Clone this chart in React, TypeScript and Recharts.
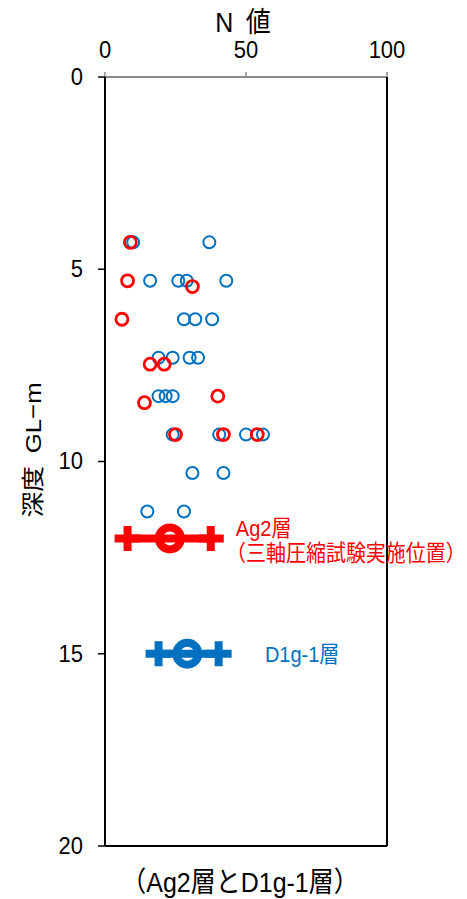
import { ScatterChart, Scatter, XAxis, YAxis, Label } from 'recharts';

const RED = '#FF0000';
const BLUE = '#0070C0';
const FONT = "'Liberation Sans', 'Noto Sans CJK JP', sans-serif";
const STRETCH = 1.12; // the reference text is a little taller than it is wide

const nTicks = [0, 50, 100];
const depthTicks = [0, 5, 10, 15, 20];

// D1g-1層: N値 and depth (m)
const d1gN = [10, 37, 16, 26, 29, 43, 28, 32, 38, 19, 24, 30, 33, 19, 21.5, 24, 24, 40.5, 50, 56, 31, 42, 15, 28];
const d1gDepth = [4.3, 4.3, 5.3, 5.3, 5.3, 5.3, 6.3, 6.3, 6.3, 7.3, 7.3, 7.3, 7.3, 8.3, 8.3, 8.3, 9.3, 9.3, 9.3, 9.3, 10.3, 10.3, 11.3, 11.3];

// Ag2層
const ag2N = [9, 8, 31, 6, 16, 21, 40, 14, 25, 42, 54];
const ag2Depth = [4.3, 5.3, 5.45, 6.3, 7.47, 7.47, 8.3, 8.47, 9.3, 9.3, 9.3];

// mean -σ, mean, mean +σ
const ag2StatN = [8, 23, 37.5];
const ag2StatDepth = [12, 12, 12];
const d1gStatN = [19, 29.2, 40.3];
const d1gStatDepth = [15, 15, 15];
const statKind = ['sd', 'mean', 'sd'];

// annotations
const noteText = ['Ag2層', '（三軸圧縮試験実施位置）', 'D1g-1層'];
const noteN = [46.4, 42.9, 56.7];
const noteDepth = [11.73, 12.38, 15];
const noteColor = [RED, RED, BLUE];

const toPoints = (ns: number[], ds: number[]) => ns.map((n, i) => ({ n, d: ds[i] }));
const toStats = (ns: number[], ds: number[]) => ns.map((n, i) => ({ n, d: ds[i], kind: statKind[i] }));
const notes = noteText.map((text, i) => ({ n: noteN[i], d: noteDepth[i], text, color: noteColor[i] }));

const stretchY = (x: number, y: number) => `translate(${x} ${y}) scale(1 ${STRETCH}) translate(${-x} ${-y})`;

const ring = (color: string, r: number, w: number) => (p: any) => (
  <circle cx={p.cx} cy={p.cy} r={r} fill="none" stroke={color} strokeWidth={w} />
);

const statShape = (color: string) => (p: any) => {
  if (p.payload.kind === 'mean') {
    return <circle cx={p.cx} cy={p.cy} r={11} fill="none" stroke={color} strokeWidth={8} />;
  }
  return (
    <path
      d={`M${p.cx - 13},${p.cy}H${p.cx + 13}M${p.cx},${p.cy - 12.5}V${p.cy + 12.5}`}
      stroke={color}
      strokeWidth={8}
      fill="none"
    />
  );
};

const noteShape = (p: any) => (
  <text x={p.cx} y={p.cy} transform={stretchY(p.cx, p.cy)} fill={p.payload.color} fontSize={20} fontFamily={FONT} dominantBaseline="central">
    {p.payload.text}
  </text>
);

const TopTick = (p: any) => (
  <text x={p.x} y={p.y} transform={stretchY(p.x, p.y)} textAnchor="middle" fontSize={22} fontFamily={FONT} fill="#000">
    {p.payload.value}
  </text>
);

const LeftTick = (p: any) => (
  <text x={p.x} y={p.y + 8} transform={stretchY(p.x, p.y + 8)} textAnchor="end" fontSize={22} fontFamily={FONT} fill="#000">
    {p.payload.value}
  </text>
);

export default function App() {
  return (
    <div style={{ position: 'absolute', left: 0, top: 0, background: '#fff' }}>
      <ScatterChart width={467} height={899} margin={{ top: 0, right: 0, bottom: 0, left: 0 }}>
        <XAxis
          xAxisId="top"
          orientation="top"
          type="number"
          dataKey="n"
          domain={[0, 100]}
          ticks={nTicks}
          interval={0}
          height={77}
          axisLine={{ stroke: '#8c8c8c', strokeWidth: 2 }}
          tickLine={{ stroke: '#8c8c8c', strokeWidth: 1.5 }}
          tickSize={5}
          tickMargin={14}
          tick={TopTick}
        >
          <Label
            content={({ viewBox }: any) => (
              <text
                x={viewBox.x + viewBox.width / 2 - 3}
                y={32}
                transform={stretchY(viewBox.x + viewBox.width / 2 - 3, 32)}
                textAnchor="middle"
                fontSize={25}
                fontFamily={FONT}
                fill="#000"
              >
                N{'\u2002'}値
              </text>
            )}
          />
        </XAxis>
        <XAxis
          xAxisId="bottom"
          orientation="bottom"
          type="number"
          domain={[0, 100]}
          height={53}
          axisLine={{ stroke: '#000', strokeWidth: 2 }}
          tick={false}
          tickLine={false}
        >
          <Label
            content={({ viewBox }: any) => (
              <text
                x={viewBox.x + viewBox.width / 2 - 6}
                y={892}
                transform={stretchY(viewBox.x + viewBox.width / 2 - 6, 892)}
                textAnchor="middle"
                fontSize={25}
                fontFamily={FONT}
                fill="#000"
              >
                （Ag2層とD1g-1層）
              </text>
            )}
          />
        </XAxis>
        <YAxis
          yAxisId="left"
          type="number"
          dataKey="d"
          domain={[0, 20]}
          reversed
          ticks={depthTicks}
          interval={0}
          width={105}
          axisLine={{ stroke: '#000', strokeWidth: 2 }}
          tickLine={{ stroke: '#000', strokeWidth: 1.5 }}
          tickSize={7}
          tickMargin={15}
          tick={LeftTick}
        >
          <Label
            content={() => (
              <text
                x={33}
                y={450}
                transform={`translate(33 450) rotate(-90) scale(${STRETCH} 1) translate(-33 -450)`}
                textAnchor="middle"
                dominantBaseline="central"
                fontSize={23}
                fontFamily={FONT}
                fill="#000"
              >
                深度{'\u2002'}GL−m
              </text>
            )}
          />
        </YAxis>
        <YAxis
          yAxisId="right"
          orientation="right"
          type="number"
          domain={[0, 20]}
          width={80}
          tick={false}
          tickLine={false}
          axisLine={{ stroke: '#000', strokeWidth: 2 }}
        />

        <Scatter xAxisId="top" yAxisId="left" data={toPoints(d1gN, d1gDepth)} shape={ring(BLUE, 6, 2)} isAnimationActive={false} />
        <Scatter xAxisId="top" yAxisId="left" data={toPoints(ag2N, ag2Depth)} shape={ring(RED, 6, 2.8)} isAnimationActive={false} />
        <Scatter
          xAxisId="top"
          yAxisId="left"
          data={toStats(ag2StatN, ag2StatDepth)}
          line={{ stroke: RED, strokeWidth: 8 }}
          shape={statShape(RED)}
          isAnimationActive={false}
        />
        <Scatter
          xAxisId="top"
          yAxisId="left"
          data={toStats(d1gStatN, d1gStatDepth)}
          line={{ stroke: BLUE, strokeWidth: 8 }}
          shape={statShape(BLUE)}
          isAnimationActive={false}
        />
        <Scatter xAxisId="top" yAxisId="left" data={notes} shape={noteShape} isAnimationActive={false} />
      </ScatterChart>
    </div>
  );
}
